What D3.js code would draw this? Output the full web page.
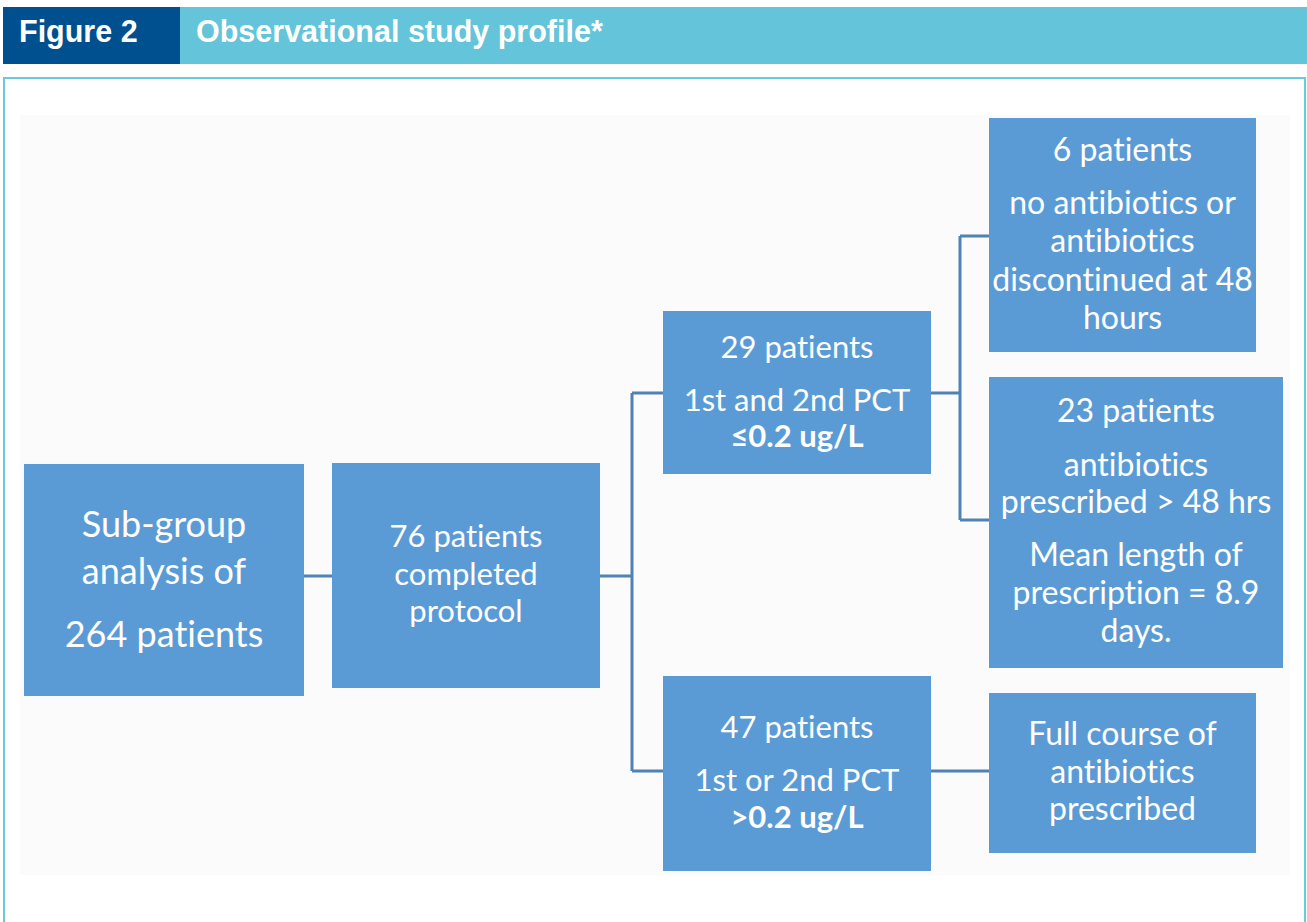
<!DOCTYPE html>
<html>
<head>
<meta charset="utf-8">
<script src="https://cdn.jsdelivr.net/npm/d3@7"></script>
<style>
  body { margin: 0; background: #fff; }
  svg { display: block; }
  svg text { font-variant-ligatures: none; font-feature-settings: "liga" 0, "clig" 0; }
</style>
</head>
<body>
<div id="chart"></div>
<script>
var svgWidth = 1307;
var svgHeight = 922;

// figure heading
var figureLabel = "Figure 2";
var figureTitle = "Observational study profile*";

// flow nodes: id, text lines (bold flag per line)
var nodeIds = ["all", "completed", "low", "high", "stopped", "prescribed", "fullcourse"];
var nodeLines = [
  [["Sub-group", 0], ["analysis of", 0], ["264 patients", 0]],
  [["76 patients", 0], ["completed", 0], ["protocol", 0]],
  [["29 patients", 0], ["1st and 2nd PCT", 0], ["\u22640.2 ug/L", 1]],
  [["47 patients", 0], ["1st or 2nd PCT", 0], [">0.2 ug/L", 1]],
  [["6 patients", 0], ["no antibiotics or", 0], ["antibiotics", 0], ["discontinued at 48", 0], ["hours", 0]],
  [["23 patients", 0], ["antibiotics", 0], ["prescribed > 48 hrs", 0], ["Mean length of", 0], ["prescription = 8.9", 0], ["days.", 0]],
  [["Full course of", 0], ["antibiotics", 0], ["prescribed", 0]]
];
// links between nodes (parent -> children)
var links = [
  ["all", ["completed"]],
  ["completed", ["low", "high"]],
  ["low", ["stopped", "prescribed"]],
  ["high", ["fullcourse"]]
];

// layout (pixel boxes) kept apart from the data
var layout = {
  all:        {x0: 24,  x1: 304,  y0: 464, y1: 696, fs: 36, base: [537, 584, 647]},
  completed:  {x0: 332, x1: 600,  y0: 463, y1: 688, fs: 31, base: [547, 585, 622]},
  low:        {x0: 663, x1: 931,  y0: 311, y1: 474, fs: 31, base: [358, 411, 447]},
  high:       {x0: 663, x1: 931,  y0: 676, y1: 871, fs: 31, base: [738, 791, 828]},
  stopped:    {x0: 989, x1: 1256, y0: 118, y1: 352, fs: 32, base: [161, 214, 252, 291, 329]},
  prescribed: {x0: 989, x1: 1283, y0: 377, y1: 668, fs: 32, base: [422, 476, 513, 566, 604, 642]},
  fullcourse: {x0: 989, x1: 1256, y0: 693, y1: 853, fs: 32, base: [745, 783, 820]}
};
// connector attach y on parent / child edges and the elbow x
var linkLayout = {
  all:       {elbow: 318, ys: [576]},
  completed: {elbow: 632, ys: [393, 771], from: 576},
  low:       {elbow: 960, ys: [236, 520], from: 393},
  high:      {elbow: 960, ys: [771], from: 771}
};

var svg = d3.select("#chart")
  .append("svg")
  .attr("width", svgWidth)
  .attr("height", svgHeight);

// header band
svg.append("rect").attr("x", 180).attr("y", 7).attr("width", svgWidth - 180).attr("height", 57).attr("fill", "#64c4d9");
svg.append("rect").attr("x", 3).attr("y", 7).attr("width", 177).attr("height", 57).attr("fill", "#004f8f");
svg.append("text")
  .attr("x", 19).attr("y", 42)
  .attr("font-family", "Liberation Sans, Arial, sans-serif")
  .attr("font-size", 30.5).attr("font-weight", "bold")
  .attr("fill", "#fff")
  .text(figureLabel);
svg.append("text")
  .attr("x", 196).attr("y", 42)
  .attr("font-family", "Liberation Sans, Arial, sans-serif")
  .attr("font-size", 30.5).attr("font-weight", "bold")
  .attr("fill", "#fff")
  .text(figureTitle);

// outer frame (open at the bottom)
svg.append("path")
  .attr("d", "M4," + svgHeight + "V78H1305V" + svgHeight)
  .attr("fill", "none")
  .attr("stroke", "#6cc8dd")
  .attr("stroke-width", 2);

// faint panel behind the diagram
svg.append("rect")
  .attr("x", 20).attr("y", 115).attr("width", 1270).attr("height", 760)
  .attr("fill", "#fbfbfb");

var chartGroup = svg.append("g");

// connectors
var lineColor = "#5082b6";
links.forEach(function(l) {
  var p = layout[l[0]];
  var ll = linkLayout[l[0]];
  var fromY = ll.from !== undefined ? ll.from : ll.ys[0];
  var path = d3.path();
  path.moveTo(p.x1, fromY);
  path.lineTo(ll.elbow, fromY);
  var ymin = d3.min(ll.ys), ymax = d3.max(ll.ys);
  if (ll.ys.length > 1) {
    path.moveTo(ll.elbow, ymin);
    path.lineTo(ll.elbow, ymax);
  }
  l[1].forEach(function(c, i) {
    path.moveTo(ll.elbow, ll.ys[i]);
    path.lineTo(layout[c].x0, ll.ys[i]);
  });
  chartGroup.append("path")
    .attr("d", path.toString())
    .attr("fill", "none")
    .attr("stroke", lineColor)
    .attr("stroke-width", 3);
});

// boxes
var nodes = nodeIds.map(function(id, i) { return {id: id, lines: nodeLines[i]}; });

var boxes = chartGroup.selectAll(".node")
  .data(nodes)
  .enter()
  .append("g")
  .attr("class", "node");

boxes.append("rect")
  .attr("x", d => layout[d.id].x0)
  .attr("y", d => layout[d.id].y0)
  .attr("width", d => layout[d.id].x1 - layout[d.id].x0)
  .attr("height", d => layout[d.id].y1 - layout[d.id].y0)
  .attr("fill", "#5b9bd5");

boxes.each(function(d) {
  var L = layout[d.id];
  var cx = (L.x0 + L.x1) / 2;
  d3.select(this).selectAll("text")
    .data(d.lines)
    .enter()
    .append("text")
    .attr("x", cx)
    .attr("y", (t, i) => L.base[i])
    .attr("text-anchor", "middle")
    .attr("font-family", "Lato, Noto Sans, sans-serif")
    .attr("font-size", L.fs)
    .attr("font-weight", t => t[1] ? "bold" : "normal")
    .attr("fill", "#fff")
    .text(t => t[0]);
});
</script>
</body>
</html>
